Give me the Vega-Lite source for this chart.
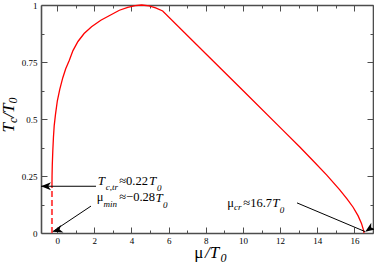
{
  "$schema": "https://vega.github.io/schema/vega-lite/v6.json",
  "width": 332,
  "height": 228,
  "autosize": "none",
  "padding": {"left": 41, "top": 5, "right": 1, "bottom": 32},
  "background": "white",
  "config": {
    "view": {"stroke": null},
    "font": "Liberation Serif",
    "axis": {
      "grid": false,
      "domainColor": "#4d4d4d",
      "domainWidth": 1.6,
      "tickColor": "#4d4d4d",
      "tickWidth": 1,
      "labelFont": "Liberation Serif",
      "labelFontSize": 9,
      "labelColor": "black",
      "titleFont": "Liberation Serif",
      "titleColor": "black",
      "titleFontWeight": "normal",
      "labelFlush": false,
      "labelOverlap": false
    }
  },
  "datasets": {
    "curve": [
      {"x": -0.28, "y": 0.205},
      {"x": -0.275, "y": 0.25},
      {"x": -0.262, "y": 0.30},
      {"x": -0.235, "y": 0.36},
      {"x": -0.20, "y": 0.42},
      {"x": -0.16, "y": 0.47},
      {"x": -0.09, "y": 0.52},
      {"x": 0.01, "y": 0.58},
      {"x": 0.14, "y": 0.63},
      {"x": 0.30, "y": 0.68},
      {"x": 0.46, "y": 0.72},
      {"x": 0.65, "y": 0.757},
      {"x": 0.85, "y": 0.80},
      {"x": 1.12, "y": 0.84},
      {"x": 1.45, "y": 0.875},
      {"x": 1.85, "y": 0.905},
      {"x": 2.35, "y": 0.933},
      {"x": 2.85, "y": 0.955},
      {"x": 3.35, "y": 0.977},
      {"x": 3.8, "y": 0.99},
      {"x": 4.2, "y": 0.997},
      {"x": 4.55, "y": 1.0},
      {"x": 4.95, "y": 0.996},
      {"x": 5.3, "y": 0.987},
      {"x": 5.68, "y": 0.974},
      {"x": 8.0, "y": 0.786},
      {"x": 10.0, "y": 0.625},
      {"x": 12.16, "y": 0.45},
      {"x": 13.06, "y": 0.377},
      {"x": 13.8, "y": 0.315},
      {"x": 14.5, "y": 0.255},
      {"x": 15.2, "y": 0.19},
      {"x": 15.6, "y": 0.15},
      {"x": 15.93, "y": 0.113},
      {"x": 16.2, "y": 0.075},
      {"x": 16.38, "y": 0.042},
      {"x": 16.48, "y": 0.015},
      {"x": 16.52, "y": 0.0}
    ],
    "dash": [
      {"x": -0.28, "y": 0.0},
      {"x": -0.28, "y": 0.205}
    ],
    "arrows": [
      {"id": 1, "x": 2.09, "y": 0.205},
      {"id": 1, "x": -0.87, "y": 0.205},
      {"id": 2, "x": 1.82, "y": 0.118},
      {"id": 2, "x": -0.24, "y": 0.006},
      {"id": 3, "x": 12.91, "y": 0.132},
      {"id": 3, "x": 16.58, "y": 0.006}
    ],
    "heads": [
      {"id": 1, "x": -0.87, "y": 0.205},
      {"id": 2, "x": -0.24, "y": 0.006},
      {"id": 3, "x": 16.58, "y": 0.006}
    ],
    "upright": [
      {"x": 3.34, "y": 0.209, "t": "≈0.22"},
      {"x": 2.13, "y": 0.139, "t": "μ"},
      {"x": 3.34, "y": 0.139, "t": "≈−0.28"},
      {"x": 9.16, "y": 0.114, "t": "μ"},
      {"x": 10.02, "y": 0.114, "t": "≈16.7"}
    ],
    "italic": [
      {"x": 2.18, "y": 0.209, "t": "T"},
      {"x": 4.94, "y": 0.209, "t": "T"},
      {"x": 5.29, "y": 0.136, "t": "T"},
      {"x": 11.58, "y": 0.114, "t": "T"}
    ],
    "sub": [
      {"x": 2.61, "y": 0.187, "t": "c,tr"},
      {"x": 5.38, "y": 0.184, "t": "0"},
      {"x": 2.50, "y": 0.116, "t": "min"},
      {"x": 5.70, "y": 0.108, "t": "0"},
      {"x": 9.52, "y": 0.0996, "t": "cr"},
      {"x": 11.98, "y": 0.089, "t": "0"}
    ]
  },
  "resolve": {"axis": {"x": "independent", "y": "independent"}},
  "layer": [
    {
      "data": {"name": "curve"},
      "mark": {"type": "line", "color": "#ff0000", "strokeWidth": 1.3},
      "encoding": {
        "x": {
          "field": "x", "type": "quantitative",
          "scale": {"domain": [-0.87, 17], "nice": false, "zero": false},
          "axis": {
            "orient": "bottom",
            "values": [0, 2, 4, 6, 8, 10, 12, 14, 16],
            "format": "d",
            "tickSize": -6,
            "labelPadding": 9,
            "title": "μ",
            "titleFontSize": 17,
            "titleFontStyle": "normal",
            "titleX": 152.7,
            "titleY": 24.7,
            "titleAlign": "left",
            "titleBaseline": "alphabetic",
            "titleAngle": 0
          }
        },
        "y": {
          "field": "y", "type": "quantitative",
          "scale": {"domain": [0, 1], "nice": false, "zero": false},
          "axis": {
            "orient": "left",
            "values": [0, 0.25, 0.5, 0.75, 1],
            "format": ".2~f",
            "tickSize": -6,
            "labelPadding": 10,
            "title": "T",
            "titleFontSize": 17,
            "titleFontStyle": "italic",
            "titleX": -28,
            "titleY": 127,
            "titleAlign": "left",
            "titleBaseline": "alphabetic",
            "titleAngle": 270
          }
        }
      }
    },
    {
      "data": {"name": "dash"},
      "mark": {"type": "line", "color": "#ff4d4d", "strokeWidth": 2, "strokeDash": [6, 3]},
      "encoding": {
        "x": {
          "field": "x", "type": "quantitative",
          "scale": {"domain": [-0.87, 17], "nice": false, "zero": false},
          "axis": {
            "orient": "top",
            "values": [0, 2, 4, 6, 8, 10, 12, 14, 16],
            "labels": false,
            "tickSize": -6,
            "title": null
          }
        },
        "y": {
          "field": "y", "type": "quantitative",
          "scale": {"domain": [0, 1], "nice": false, "zero": false},
          "axis": {
            "orient": "right",
            "values": [0, 0.25, 0.5, 0.75, 1],
            "labels": false,
            "tickSize": -6,
            "title": null
          }
        }
      }
    },
    {
      "data": {"name": "arrows"},
      "mark": {"type": "line", "color": "black", "strokeWidth": 1},
      "encoding": {
        "detail": {"field": "id", "type": "nominal"},
        "x": {
          "field": "x", "type": "quantitative",
          "scale": {"domain": [-0.87, 17], "nice": false, "zero": false},
          "axis": {
            "orient": "bottom", "domain": false, "labels": false,
            "values": [1, 3, 5, 7, 9, 11, 13, 15], "tickSize": -3,
            "title": "/T", "titleFontSize": 17, "titleFontStyle": "italic",
            "titleX": 163.5, "titleY": 24.7, "titleAlign": "left", "titleBaseline": "alphabetic", "titleAngle": 0
          }
        },
        "y": {
          "field": "y", "type": "quantitative",
          "scale": {"domain": [0, 1], "nice": false, "zero": false},
          "axis": {
            "orient": "left", "domain": false, "labels": false,
            "values": [0.125, 0.375, 0.625, 0.875], "tickSize": -3,
            "title": "c", "titleFontSize": 12, "titleFontStyle": "italic",
            "titleX": -24.3, "titleY": 117.5, "titleAlign": "left", "titleBaseline": "alphabetic", "titleAngle": 270
          }
        }
      }
    },
    {
      "data": {"name": "heads"},
      "mark": {"type": "point", "shape": "M0,0L-1,-0.4L-0.72,0L-1,0.4Z", "filled": true, "color": "black", "opacity": 1, "size": 400},
      "encoding": {
        "angle": {"field": "id", "type": "nominal", "scale": {"domain": [1, 2, 3], "range": [180, 146, 23]}, "legend": null},
        "x": {
          "field": "x", "type": "quantitative",
          "scale": {"domain": [-0.87, 17], "nice": false, "zero": false},
          "axis": {
            "orient": "top", "domain": false, "labels": false,
            "values": [1, 3, 5, 7, 9, 11, 13, 15], "tickSize": -3,
            "title": null
          }
        },
        "y": {
          "field": "y", "type": "quantitative",
          "scale": {"domain": [0, 1], "nice": false, "zero": false},
          "axis": {
            "orient": "right", "domain": false, "labels": false,
            "values": [0.125, 0.375, 0.625, 0.875], "tickSize": -3,
            "title": null
          }
        }
      }
    },
    {
      "data": {"name": "upright"},
      "mark": {"type": "text", "align": "left", "baseline": "alphabetic", "fontSize": 12.5, "font": "Liberation Serif", "color": "black"},
      "encoding": {
        "text": {"field": "t"},
        "x": {
          "field": "x", "type": "quantitative",
          "scale": {"domain": [-0.87, 17], "nice": false, "zero": false},
          "axis": {
            "orient": "bottom", "domain": false, "ticks": false, "labels": false,
            "title": "0", "titleFontSize": 12, "titleFontStyle": "italic",
            "titleX": 179, "titleY": 28.7, "titleAlign": "left", "titleBaseline": "alphabetic", "titleAngle": 0
          }
        },
        "y": {
          "field": "y", "type": "quantitative",
          "scale": {"domain": [0, 1], "nice": false, "zero": false},
          "axis": {
            "orient": "left", "domain": false, "ticks": false, "labels": false,
            "title": "/T", "titleFontSize": 17, "titleFontStyle": "italic",
            "titleX": -28, "titleY": 112.2, "titleAlign": "left", "titleBaseline": "alphabetic", "titleAngle": 270
          }
        }
      }
    },
    {
      "data": {"name": "italic"},
      "mark": {"type": "text", "align": "left", "baseline": "alphabetic", "fontSize": 13, "fontStyle": "italic", "font": "Liberation Serif", "color": "black"},
      "encoding": {
        "text": {"field": "t"},
        "x": {"field": "x", "type": "quantitative", "scale": {"domain": [-0.87, 17], "nice": false, "zero": false}, "axis": null},
        "y": {
          "field": "y", "type": "quantitative",
          "scale": {"domain": [0, 1], "nice": false, "zero": false},
          "axis": {
            "orient": "left", "domain": false, "ticks": false, "labels": false,
            "title": "0", "titleFontSize": 12, "titleFontStyle": "italic",
            "titleX": -24.3, "titleY": 98, "titleAlign": "left", "titleBaseline": "alphabetic", "titleAngle": 270
          }
        }
      }
    },
    {
      "data": {"name": "sub"},
      "mark": {"type": "text", "align": "left", "baseline": "alphabetic", "fontSize": 9, "fontStyle": "italic", "font": "Liberation Serif", "color": "black"},
      "encoding": {
        "text": {"field": "t"},
        "x": {"field": "x", "type": "quantitative", "scale": {"domain": [-0.87, 17], "nice": false, "zero": false}, "axis": null},
        "y": {"field": "y", "type": "quantitative", "scale": {"domain": [0, 1], "nice": false, "zero": false}, "axis": null}
      }
    }
  ]
}
